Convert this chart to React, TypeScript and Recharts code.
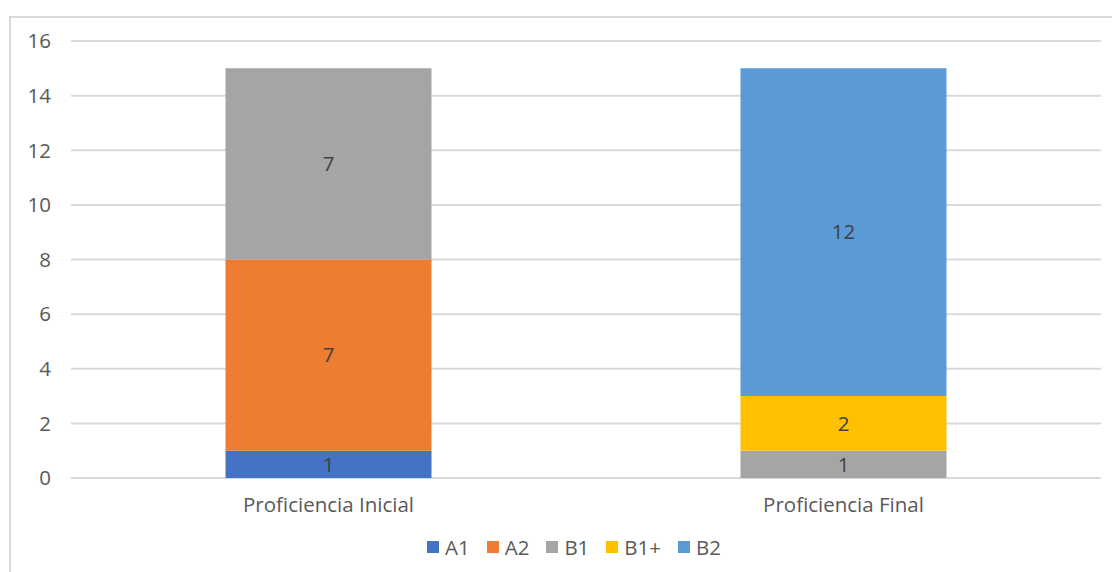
import React from 'react';
import {
  BarChart,
  Bar,
  XAxis,
  YAxis,
  CartesianGrid,
  Legend,
  LabelList,
} from 'recharts';

const categories = ['Proficiencia Inicial', 'Proficiencia Final'];
const a1 = [1, 0];
const a2 = [7, 0];
const b1 = [7, 1];
const b1plus = [0, 2];
const b2 = [0, 12];
const yTicks = [0, 2, 4, 6, 8, 10, 12, 14, 16];

const series = [
  { key: 'A1', values: a1, color: '#4472C4' },
  { key: 'A2', values: a2, color: '#ED7D31' },
  { key: 'B1', values: b1, color: '#A5A5A5' },
  { key: 'B1+', values: b1plus, color: '#FFC000' },
  { key: 'B2', values: b2, color: '#5B9BD5' },
];

const data = categories.map((name, i) => {
  const row: Record<string, string | number> = { name };
  series.forEach((s) => {
    row[s.key] = s.values[i];
  });
  return row;
});

const FONT = '"Open Sans", Lato, sans-serif';
const TEXT = '#595959';
const FS = 20.5;

function LegendContent() {
  return (
    <div
      style={{
        display: 'flex',
        justifyContent: 'center',
        paddingLeft: 64,
        fontFamily: FONT,
        fontSize: FS,
        lineHeight: '24px',
        color: TEXT,
      }}
    >
      {series.map((s) => (
        <div
          key={s.key}
          style={{ display: 'flex', alignItems: 'center', marginRight: 17 }}
        >
          <span
            style={{
              display: 'inline-block',
              width: 12,
              height: 12,
              background: s.color,
              marginRight: 6,
            }}
          />
          {s.key}
        </div>
      ))}
    </div>
  );
}

export default function App() {
  return (
    <div
      style={{
        position: 'absolute',
        left: 0,
        top: 0,
        width: 1112,
        height: 572,
        background: '#fff',
        overflow: 'hidden',
      }}
    >
      <div
        style={{
          position: 'absolute',
          left: 9,
          top: 16,
          width: 1120,
          height: 580,
          border: '2px solid #d9d9d9',
        }}
      />
      <BarChart
        width={1112}
        height={572}
        data={data}
        margin={{ top: 41, right: 11, bottom: 24, left: 0 }}
        barCategoryGap="30%"
        style={{ position: 'absolute', left: 0, top: 0 }}
      >
        <CartesianGrid vertical={false} stroke="#d9d9d9" strokeWidth={2} />
        <XAxis
          dataKey="name"
          axisLine={false}
          tickLine={false}
          tickMargin={13}
          height={46}
          tick={{ fill: TEXT, fontSize: FS, fontFamily: FONT }}
        />
        <YAxis
          domain={[0, 16]}
          ticks={yTicks}
          width={71}
          axisLine={false}
          tickLine={false}
          tickMargin={14}
          tick={{ fill: TEXT, fontSize: FS, fontFamily: FONT }}
        />
        <Legend
          verticalAlign="bottom"
          wrapperStyle={{ bottom: 13 }}
          content={<LegendContent />}
        />
        {series.map((s) => (
          <Bar
            key={s.key}
            dataKey={s.key}
            stackId="a"
            fill={s.color}
            isAnimationActive={false}
          >
            <LabelList
              dataKey={s.key}
              position="center"
              formatter={(v: any) => (v ? v : '')}
              fill="#404040"
              fontSize={FS}
              fontFamily={FONT}
            />
          </Bar>
        ))}
      </BarChart>
    </div>
  );
}
